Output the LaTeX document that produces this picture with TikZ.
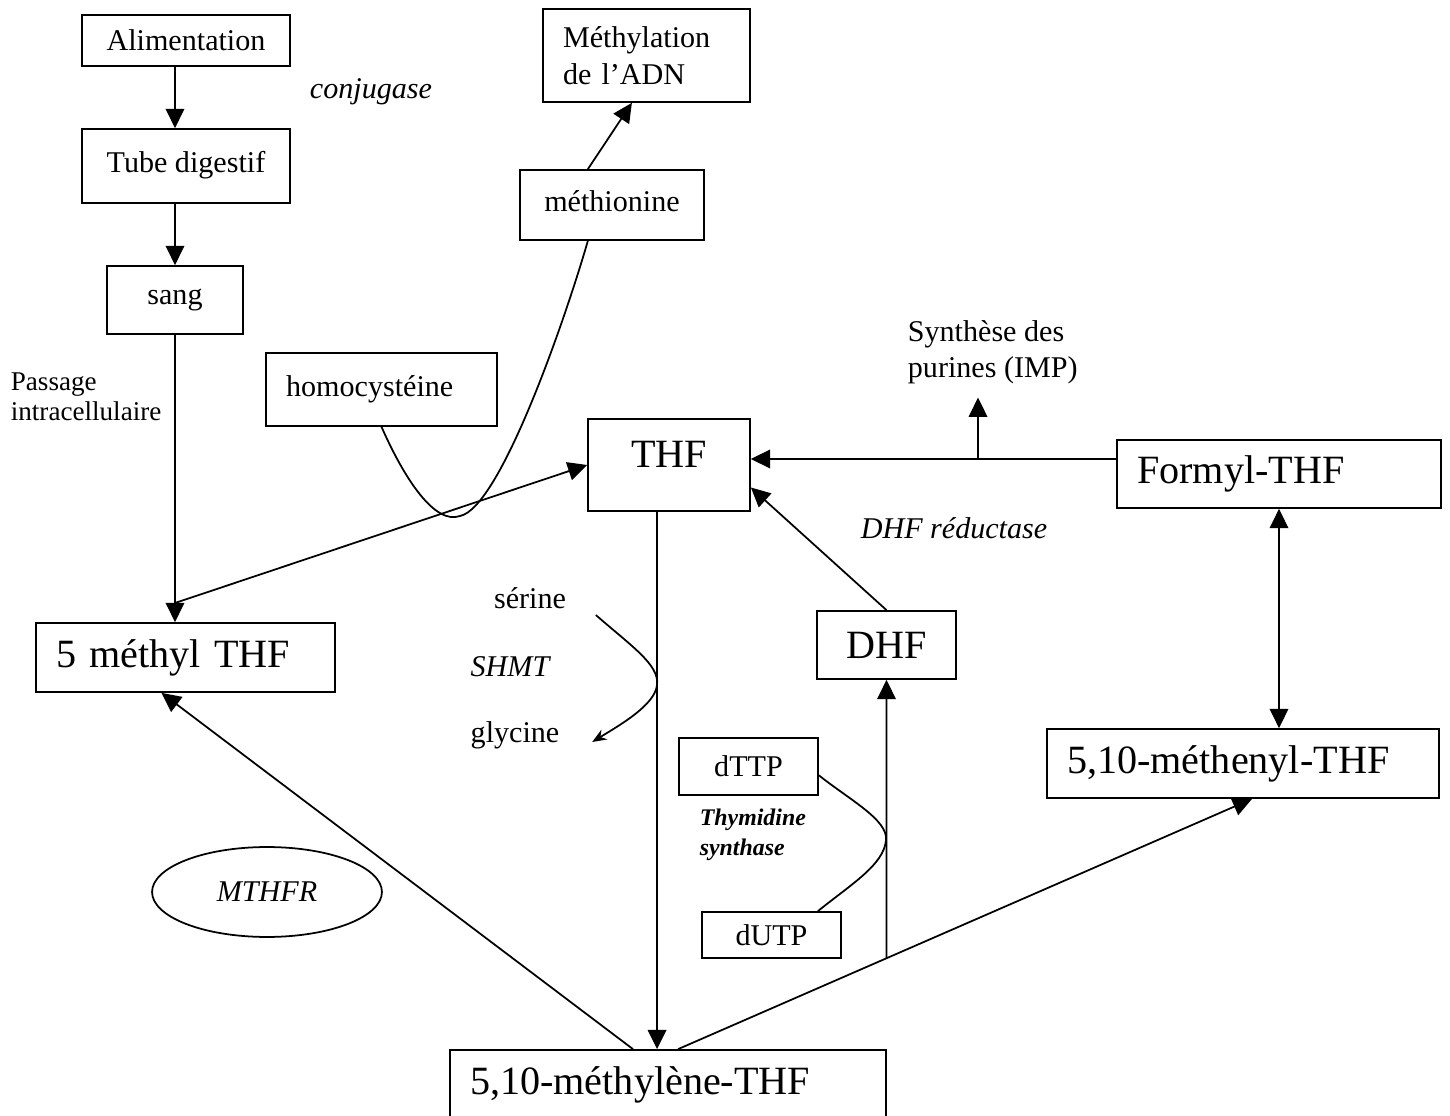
\documentclass[tikz,border=0pt]{standalone}
\usepackage{fontspec}
\setmainfont{Liberation Serif}
\usetikzlibrary{arrows.meta,%
                shapes,%
                calc,%
                positioning}

\begin{document}
\begin{tikzpicture}[x=0.014cm, y=-0.014cm,
boite/.style={rectangle, draw=black, inner sep=0pt,
font=\fontsize{12}{14.5}\selectfont},
%
grand/.style={boite, font=\fontsize{16}{19}\selectfont},
%
gauche/.style={align=left, inner xsep=0.28cm},
%
legende/.style={inner sep=0pt, align=left, font=\fontsize{12}{14.5}\selectfont},
%
enzyme/.style={legende, font=\fontsize{12}{14.5}\selectfont\itshape},
%
petit/.style={legende, font=\fontsize{10.8}{11.8}\selectfont},
%
fleche/.style={-{Triangle[length=0.27cm, width=0.26cm]}},
%
flechedouble/.style={{Triangle[length=0.27cm, width=0.26cm]}-{Triangle[length=0.27cm, width=0.26cm]}}]

\tikzset{every path/.style={line width=.7pt}}

\useasboundingbox (0,0) rectangle (1450,1116);

% colonne de gauche
\begin{scope}
  \node[boite, minimum width=2.912cm, minimum height=0.714cm] (ali) at (186,40.5) {Alimentation};
  \node[boite, minimum width=2.912cm, minimum height=1.036cm, text depth=0.12cm] (tube) at (186,166) {Tube digestif};
  \node[boite, minimum width=1.904cm, minimum height=0.952cm] (sang) at (175,300) {sang};
  \node[grand, gauche, minimum width=4.186cm, minimum height=0.966cm, text width=3.626cm] (mthf) at (185.5,657.5) {5 méthyl THF};
  %%%%%%%%%%%%%%%%%%%%%%%%%%%%%%%%%%
  \node[enzyme] (conj) at (371,92) {conjugase};
  \node[petit, anchor=west] (pass) at (10,397) {Passage\\intracellulaire};
  \node[draw, ellipse, inner sep=0pt, minimum width=3.22cm, minimum height=1.26cm,
        font=\fontsize{12}{14.5}\selectfont\itshape] (mthfr) at (267,892) {MTHFR\hspace{0.5cm}};
\end{scope}

% methionine
\begin{scope}
  \node[boite, gauche, minimum width=2.898cm, minimum height=1.302cm, text width=2.338cm] (adn) at (646.5,55.5) {Méthylation\\de l’ADN};
  \node[boite, minimum width=2.576cm, minimum height=0.98cm, text depth=0.1cm] (meth) at (612,205) {méthionine};
  \node[boite, gauche, minimum width=3.234cm, minimum height=1.022cm, text width=2.674cm] (homo) at (381.5,389.5) {homocystéine};
\end{scope}

% cycle des folates
\begin{scope}
  \node[grand, minimum width=2.268cm, minimum height=1.288cm, text depth=0.3cm] (thf) at (669,465) {THF};
  \node[grand, gauche, minimum width=4.536cm, minimum height=0.952cm, text width=3.976cm] (formyl) at (1279,474) {Formyl-THF};
  \node[grand, minimum width=1.946cm, minimum height=0.952cm] (dhf) at (886.5,645) {DHF};
  \node[grand, gauche, minimum width=5.488cm, minimum height=0.966cm, text width=4.928cm] (menyl) at (1243,763.5) {5,10-méthenyl-THF};
  \node[grand, gauche, minimum width=6.104cm, minimum height=0.98cm, text width=5.544cm] (mlene) at (668,1085) {5,10-méthylène-THF};
  %%%%%%%%%%%%%%%%%%%%%%%%%%%%%%%%%%
  \node[boite, minimum width=1.946cm, minimum height=0.798cm] (dttp) at (748.5,766.5) {dTTP};
  \node[boite, minimum width=1.946cm, minimum height=0.644cm] (dutp) at (771.5,935) {dUTP};
  %%%%%%%%%%%%%%%%%%%%%%%%%%%%%%%%%%
  \node[legende, anchor=west, inner ysep=0.18cm] (pur) at (907,352) {Synthèse des\\purines (IMP)};
  \node[enzyme] (red) at (954,528) {DHF réductase};
  \node[legende] (ser) at (530,598) {sérine};
  \node[enzyme] (shmt) at (510,667) {SHMT};
  \node[legende] (gly) at (515,735) {glycine};
  \node[legende, anchor=west, font=\fontsize{9.5}{11.8}\selectfont\bfseries\itshape] (thym) at (699,835) {Thymidine\\synthase};
\end{scope}

\coordinate (j5) at (175,603);
\coordinate (purj) at (978,459);
\coordinate (mx) at ($(meth.south west)!0.37!(meth.south east)$);
\coordinate (m1) at ($(mlene.north west)!0.42!(mlene.north east)$);
\coordinate (m2) at ($(mlene.north west)!0.475!(mlene.north east)$);
\coordinate (m3) at ($(mlene.north west)!0.523!(mlene.north east)$);
\coordinate (m4) at ($(menyl.south west)!0.523!(menyl.south east)$);
\coordinate (jd) at (intersection of m3--m4 and dhf.south--dhf.north);

\begin{scope}
  \draw[fleche] (ali.south -| sang.north) -- (tube.north -| sang.north);
  \draw[fleche] (tube.south -| sang.north) -- (sang.north);
  \draw[fleche] (sang.south) -- (sang.south |- mthf.north);
  \draw[fleche] (j5) -- (thf.west);
  %%%%%%%%%%%%%%%%%%%%%%%%%%%%%%%%%%%%%
  \draw (homo.south) .. controls (405,480) and (435,525) .. (460,516)
        .. controls (500,508) and (565,320) .. (mx);
  \draw[fleche] (mx |- meth.north) -- ($(adn.south west)!0.43!(adn.south east)$);
  %%%%%%%%%%%%%%%%%%%%%%%%%%%%%%%%%%%%%
  \draw (formyl.west |- purj) -- (purj);
  \draw[fleche] (purj) -- (thf.east |- purj);
  \draw[fleche] (purj) -- (purj |- pur.south);
  \draw[flechedouble] (formyl.south) -- (formyl.south |- menyl.north);
  \draw[fleche] (dhf.north) -- ($(thf.north east)!0.74!(thf.south east)$);
  %%%%%%%%%%%%%%%%%%%%%%%%%%%%%%%%%%%%%
  \draw[fleche] (m2 |- thf.south) -- (m2);
  \draw[fleche] (m1) -- ($(mthf.south west)!0.42!(mthf.south east)$);
  \draw[fleche] (m3) -- (m4);
  \draw[fleche] (jd) -- (dhf.south);
  %%%%%%%%%%%%%%%%%%%%%%%%%%%%%%%%%%%%%
  \draw[-{Stealth[length=0.2cm, width=0.16cm]}] ([shift={(29,17)}]ser.east)
        .. controls (630,645) and (660,665) .. (657,685)
        .. controls (655,705) and (620,725) .. ([shift={(32,7)}]gly.east);
  \draw ($(dttp.north east)!0.65!(dttp.south east)$)
        .. controls (850,800) and (888,820) .. (886,840)
        .. controls (884,865) and (850,885) .. ($(dutp.north west)!0.83!(dutp.north east)$);
\end{scope}

\end{tikzpicture}
\end{document}
